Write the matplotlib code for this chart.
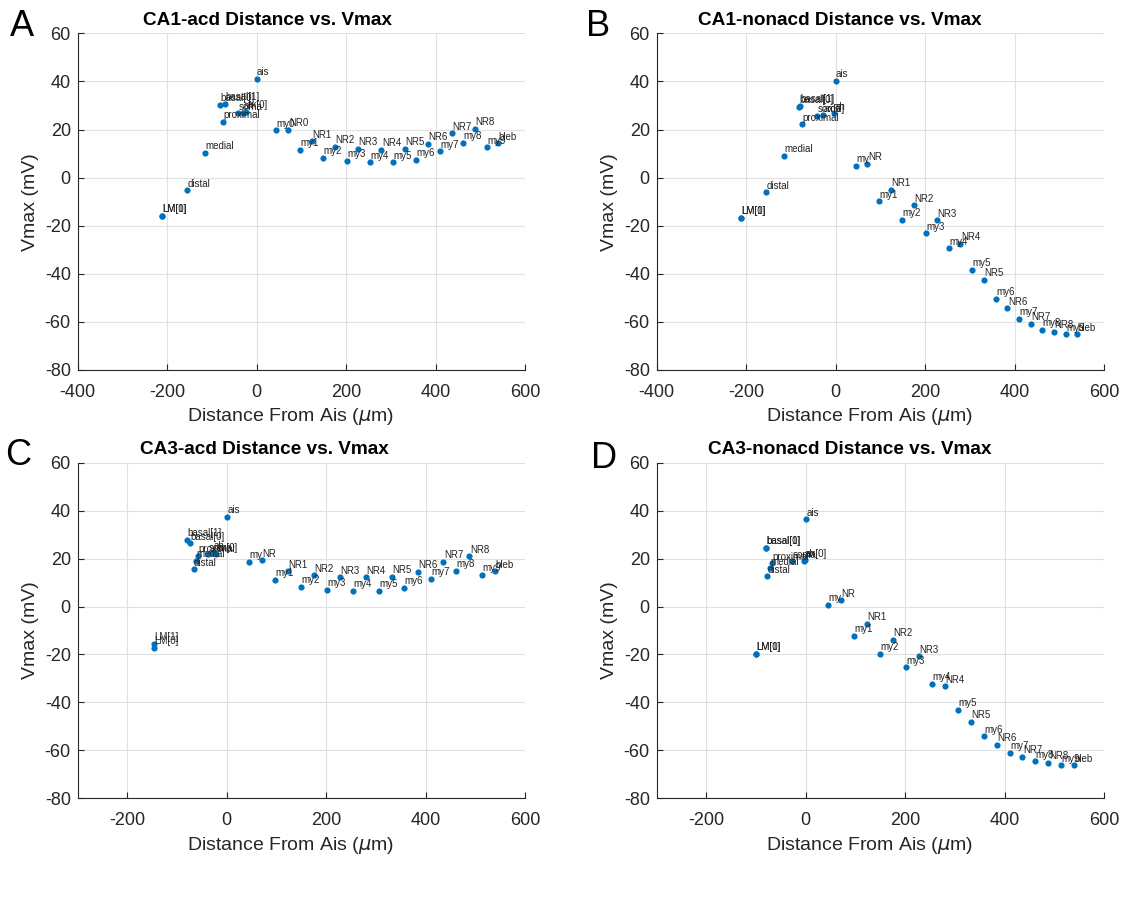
import matplotlib
matplotlib.use('Agg')
import matplotlib.pyplot as plt

plt.rcParams['font.family'] = ['Liberation Sans', 'DejaVu Sans']
plt.rcParams['axes.unicode_minus'] = False

# ---------------- data ----------------
labels_A = ['LM[0]', 'LM[1]', 'distal', 'medial', 'proximal', 'basal[0]', 'basal[1]',
            'soma', 'ah', 'ax[0]', 'ais', 'my0', 'NR0', 'my1', 'NR1', 'my2', 'NR2',
            'my3', 'NR3', 'my4', 'NR4', 'my5', 'NR5', 'my6', 'NR6', 'my7', 'NR7',
            'my8', 'NR8', 'my9', 'bleb']
x_A = [-212, -212, -156, -115, -76, -82, -71, -41, -30, -24, 0, 44, 71, 97, 123, 149, 175,
       201, 227, 253, 279, 305, 331, 357, 383, 410, 436, 462, 488, 514, 540]
y_A = [-15.8, -15.8, -5.3, 10.2, 23.1, 30.2, 30.6, 26.7, 27.0, 27.4, 41.0, 19.7, 19.9,
       11.5, 15.1, 8.3, 12.9, 6.9, 12.0, 6.4, 11.6, 6.4, 12.0, 7.3, 14.0, 10.9, 18.4,
       14.4, 20.2, 12.6, 14.3]

labels_B = ['LM[0]', 'LM[1]', 'distal', 'medial', 'proximal', 'basal[0]', 'basal[1]',
            'soma', 'ax[0]', 'ah', 'ais', 'my', 'NR', 'my1', 'NR1', 'my2', 'NR2',
            'my3', 'NR3', 'my4', 'NR4', 'my5', 'NR5', 'my6', 'NR6', 'my7', 'NR7',
            'my8', 'NR8', 'my9', 'bleb']
x_B = [-212, -212, -156, -116, -76, -81, -79, -41, -28, -4, 0, 45, 71, 97, 123, 149, 175,
       201, 227, 253, 279, 305, 331, 358, 384, 410, 436, 462, 488, 514, 540]
y_B = [-16.8, -16.8, -6.1, 9.1, 22.2, 29.5, 29.8, 25.6, 25.9, 26.7, 40.2, 4.8, 5.7,
       -9.9, -5.0, -17.6, -11.5, -23.2, -17.8, -29.4, -27.5, -38.4, -42.6, -50.4, -54.3,
       -58.7, -60.9, -63.2, -64.2, -65.2, -65.2]

labels_C = ['LM[0]', 'LM[1]', 'distal', 'medial', 'proximal', 'basal[0]', 'basal[1]',
            'soma', 'ah', 'ax[0]', 'ais', 'my', 'NR', 'my1', 'NR1', 'my2', 'NR2',
            'my3', 'NR3', 'my4', 'NR4', 'my5', 'NR5', 'my6', 'NR6', 'my7', 'NR7',
            'my8', 'NR8', 'my9', 'bleb']
x_C = [-146, -146, -67, -62, -57, -74, -80, -37, -27, -21, 0, 45, 71, 97, 123, 150, 176,
       201, 228, 254, 280, 306, 332, 357, 384, 410, 436, 462, 488, 514, 540]
y_C = [-17.2, -15.5, 15.5, 19.0, 21.1, 26.4, 27.8, 21.8, 22.4, 21.8, 37.5, 18.7, 19.3,
       11.1, 14.7, 8.1, 13.0, 6.9, 12.2, 6.6, 12.2, 6.6, 12.4, 7.9, 14.5, 11.5, 18.7,
       15.0, 20.9, 13.1, 14.7]

labels_D = ['LM[0]', 'LM[1]', 'distal', 'medial', 'proximal', 'basal[0]', 'basal[1]',
            'soma', 'ah', 'ax[0]', 'ais', 'my', 'NR', 'my1', 'NR1', 'my2', 'NR2',
            'my3', 'NR3', 'my4', 'NR4', 'my5', 'NR5', 'my6', 'NR6', 'my7', 'NR7',
            'my8', 'NR8', 'my9', 'bleb']
x_D = [-100, -100, -78, -73, -68, -80, -80, -28, -3, -1, 0, 45, 71, 97, 123, 149, 175,
       201, 227, 253, 280, 306, 332, 358, 384, 410, 436, 462, 488, 514, 540]
y_D = [-19.8, -19.8, 12.6, 16.0, 18.0, 24.5, 24.5, 18.9, 19.2, 19.3, 36.4, 0.6, 2.6,
       -12.3, -7.2, -19.7, -13.8, -25.4, -20.8, -32.3, -33.3, -43.2, -48.0, -54.1, -57.6,
       -61.0, -62.8, -64.6, -65.3, -66.2, -66.2]

titles = ['CA1-acd Distance vs. Vmax', 'CA1-nonacd Distance vs. Vmax',
          'CA3-acd Distance vs. Vmax', 'CA3-nonacd Distance vs. Vmax']
letters = ['A', 'B', 'C', 'D']
x_ticks_top = [-400, -200, 0, 200, 400, 600]
x_ticks_bottom = [-200, 0, 200, 400, 600]
y_ticks = [-80, -60, -40, -20, 0, 20, 40, 60]

# ---------------- figure ----------------
W, H = 1130, 909
fig = plt.figure(figsize=(W / 100, H / 100), dpi=100)

def px_rect(l, r, t, b):
    return [l / W, 1 - b / H, (r - l) / W, (b - t) / H]

rects = [px_rect(77.7, 525, 33.3, 370), px_rect(656.7, 1104, 33.3, 370),
         px_rect(77.7, 525, 462.7, 798.3), px_rect(656.7, 1104, 462.7, 798.3)]
datasets = [(labels_A, x_A, y_A), (labels_B, x_B, y_B),
            (labels_C, x_C, y_C), (labels_D, x_D, y_D)]
xlims = [(-400, 600), (-400, 600), (-300, 600), (-300, 600)]
xticks = [x_ticks_top, x_ticks_top, x_ticks_bottom, x_ticks_bottom]
letter_pos = [(22, 27), (598, 27), (18, 456), (604, 459)]
title_x = [0.425, 0.41, 0.418, 0.432]

dark = '#262626'
for i in range(4):
    ax = fig.add_axes(rects[i])
    labs, xs, ys = datasets[i]
    ax.scatter(xs, ys, s=20, color='#0072BD', zorder=3, linewidths=0)
    for lab, xv, yv in zip(labs, xs, ys):
        ax.annotate(lab, (xv, yv), xytext=(0.3, 1.2), textcoords='offset points',
                    fontsize=7, color='#222222', ha='left', va='bottom', zorder=4)
    ax.set_xlim(*xlims[i])
    ax.set_ylim(-80, 60)
    ax.set_xticks(xticks[i])
    ax.set_yticks(y_ticks)
    ax.grid(True, color='#e0e0e0', linewidth=0.8)
    ax.set_axisbelow(True)
    for sp in ['top', 'right']:
        ax.spines[sp].set_visible(False)
    for sp in ['left', 'bottom']:
        ax.spines[sp].set_color(dark)
        ax.spines[sp].set_linewidth(0.8)
    ax.tick_params(direction='in', length=4, width=0.8, color=dark, labelcolor=dark,
                   labelsize=13)
    ax.tick_params(axis='x', pad=10)
    ax.tick_params(axis='y', pad=5)
    ax.set_xlabel('Distance From Ais ($\\mu$m)', fontsize=14, color=dark, labelpad=4,
                  x=0.477)
    ax.set_ylabel('Vmax (mV)', fontsize=14, color=dark, labelpad=4)
    ax.set_title(titles[i], fontsize=13.7, fontweight='bold', color='#000000', pad=6,
                 x=title_x[i])
    lx, ly = letter_pos[i]
    fig.text(lx / W, 1 - ly / H, letters[i], fontsize=26, ha='center', va='center',
             color='#000000')

fig.savefig('out.png', dpi=100)
